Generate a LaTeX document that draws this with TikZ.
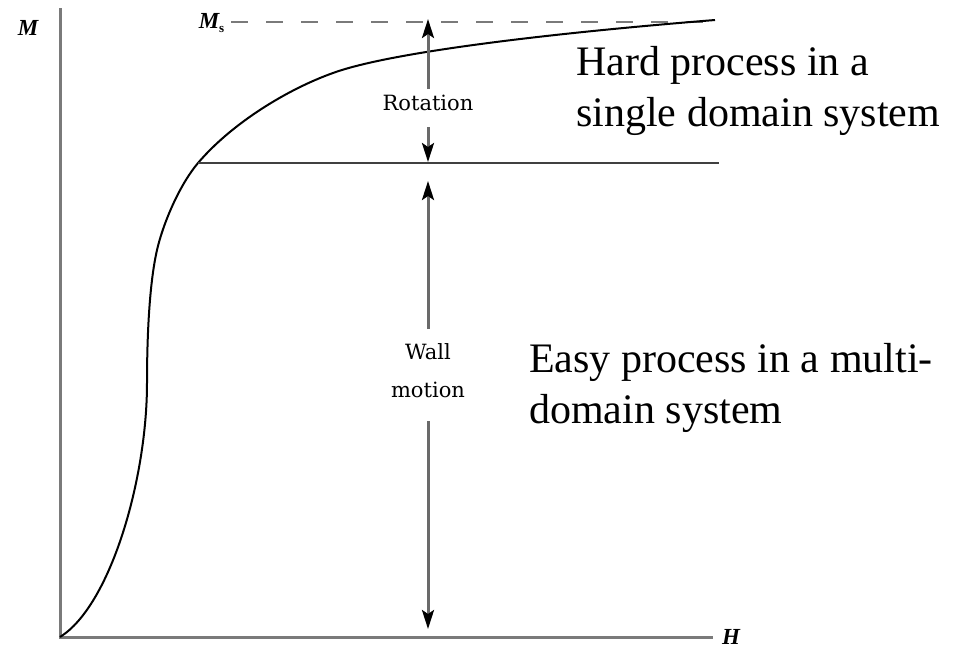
\documentclass[tikz,border=0pt]{standalone}
\usepackage{fontspec}
\setmainfont{Liberation Serif}
\newfontfamily\labfont{DejaVu Serif}
\usetikzlibrary{arrows.meta}
\definecolor{axisgray}{HTML}{7A7A7A}
\definecolor{shaftgray}{HTML}{6A6A6A}
\begin{document}
\begin{tikzpicture}[x=1pt,y=-1pt,
  axisline/.style={axisgray,line width=3pt},
  curveline/.style={black,line width=2pt},
  levelline/.style={black!75,line width=2.2pt},
  dashline/.style={axisgray,line width=2.5pt,dash pattern=on 17pt off 18pt},
  dimarrow/.style={shaftgray,line width=3pt,-{Stealth[black,length=19pt,width=12pt,inset=4pt]}},
  smalllab/.style={font=\labfont\fontsize{21}{23}\selectfont,inner sep=0pt},
  axlab/.style={font=\itshape\bfseries\fontsize{23}{25}\selectfont,inner sep=0pt},
  bigtext/.style={font=\fontsize{42}{51}\selectfont,align=left,inner sep=0pt,anchor=north west}]
\useasboundingbox (0,0) rectangle (965,649);
% axes
\coordinate (O) at (60,637);
\coordinate (ytop) at (60,8);
\coordinate (xend) at (713,637);
\draw[axisline] (ytop) -- (O) -- (xend);
\node[axlab] (Mlab) at (28,28) {M};
\node[axlab] (Hlab) at (731,637) {H};
% saturation dashed line
\node[axlab,anchor=east] (Ms) at (225,23) {M\textsubscript{\upshape\fontsize{13}{13}\selectfont s}};
\coordinate (dend) at (713,22);
\draw[dashline] (Ms.east) ++(6,-1) -- (dend);
% magnetisation curve
\draw[curveline] (O)
  .. controls (110,606) and (147,480) .. (147,383)
  .. controls (147,340) and (149,285) .. (157,250)
  .. controls (164,220) and (181,183) .. (198,163)
  .. controls (232,123) and (288,89) .. (333,73)
  .. controls (393,51) and (565,32) .. (715,20);
% level line
\coordinate (lvA) at (198,163);
\coordinate (lvB) at (719,163);
\draw[levelline] (lvA) -- (lvB);
% rotation arrows
\coordinate (rTop) at (428,19);
\coordinate (rBot) at (428,162);
\node[smalllab] (rot) at (428,103) {Rotation};
\draw[dimarrow] (428,89) -- (rTop);
\draw[dimarrow] (428,127) -- (rBot);
% wall motion arrows
\coordinate (wTop) at (428,181);
\coordinate (wBot) at (428,629);
\node[smalllab] (wall) at (428,352) {Wall};
\node[smalllab] (motion) at (428,390) {motion};
\draw[dimarrow] (428,329) -- (wTop);
\draw[dimarrow] (428,421) -- (wBot);
% texts
\node[bigtext] (hard) at (576,46) {Hard process in a\\single domain system};
\node[bigtext] (easy) at (529,343) {Easy process in a multi-\\domain system};
\end{tikzpicture}
\end{document}
